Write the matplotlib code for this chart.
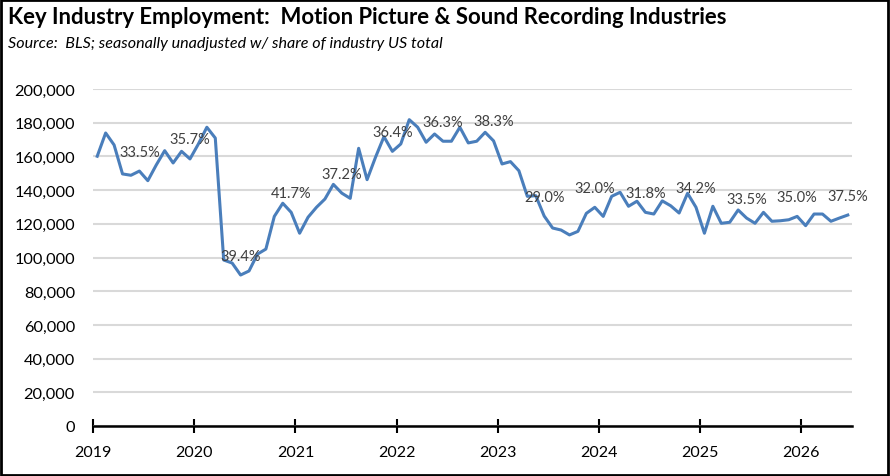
import numpy as np
import matplotlib.pyplot as plt
from matplotlib.patches import Rectangle

# monthly employment, Jan 2019 .. Jun 2026 (thousands)
employment = [
    160.1, 173.9, 166.8, 149.6, 148.8, 151.3, 145.6, 154.9, 163.4, 156.1, 163.0, 158.5,
    167.4, 177.3, 170.9, 98.5, 96.7, 89.6, 92.0, 102.0, 105.0, 124.4, 132.2, 126.8,
    114.4, 123.9, 129.8, 134.7, 143.4, 138.2, 135.1, 164.8, 146.2, 159.5, 171.7, 163.0,
    167.4, 181.8, 177.3, 168.4, 173.3, 169.0, 169.0, 177.3, 168.0, 169.0, 174.3, 169.2,
    155.5, 156.9, 151.5, 136.3, 136.7, 124.6, 117.5, 116.3, 113.4, 115.5, 126.2, 129.8,
    124.4, 136.3, 138.7, 130.4, 133.4, 126.8, 125.8, 133.6, 130.7, 126.4, 138.1, 129.8,
    114.4, 130.4, 120.3, 120.9, 128.2, 123.4, 120.3, 126.8, 121.5, 121.8, 122.4, 124.4,
    118.9, 125.8, 125.8, 121.5, 123.4, 125.2,
]
employment = np.array(employment) * 1000

# share of US industry total, labelled every June / December
share_idx = [5, 11, 17, 23, 29, 35, 41, 47, 53, 59, 65, 71, 77, 83, 89]
share_txt = ['33.5%', '35.7%', '39.4%', '41.7%', '37.2%', '36.4%', '36.3%', '38.3%',
             '29.0%', '32.0%', '31.8%', '34.2%', '33.5%', '35.0%', '37.5%']

years = list(range(2019, 2027))

plt.rcParams['font.family'] = ['Lato', 'DejaVu Sans']

fig = plt.figure(figsize=(8.9, 4.77), dpi=100)
ax = fig.add_axes([93/890, 50/477, 759/890, 337/477])

x = np.arange(len(employment)) + 0.5
ax.plot(x, employment, color='#4a7ebb', lw=2.2, solid_joinstyle='round')

for i, t in zip(share_idx, share_txt):
    ax.annotate(t, (x[i], employment[i]), xytext=(0, 9), textcoords='offset points',
                ha='center', va='bottom', fontsize=10.5, color='#404040')

ax.set_xlim(0, 90)
ax.set_ylim(0, 200000)
ax.set_xticks([12 * i for i in range(len(years))])
ax.set_xticklabels([str(y) for y in years], fontsize=11.5)
ax.set_yticks(range(0, 200001, 20000))
ax.set_yticklabels([f'{v:,}' for v in range(0, 200001, 20000)], fontsize=11.8)
ax.tick_params(axis='y', length=0, pad=13)
ax.tick_params(axis='x', direction='inout', length=10, width=1.5, pad=9, color='black')

ax.grid(axis='y', color='#d9d9d9', lw=1.5)
ax.set_axisbelow(True)
for s in ['left', 'right', 'top']:
    ax.spines[s].set_visible(False)
ax.spines['bottom'].set_linewidth(1.8)
ax.spines['bottom'].set_zorder(3)

fig.text(8/890, 1 - 18/477, 'Key Industry Employment:  Motion Picture & Sound Recording Industries',
         fontsize=15.9, fontweight='bold', va='center', ha='left')
fig.text(8/890, 1 - 44/477, 'Source:  BLS; seasonally unadjusted w/ share of industry US total',
         fontsize=11.6, fontstyle='italic', va='center', ha='left')

fig.patches.append(Rectangle((0.001, 0.002), 0.997, 0.996, transform=fig.transFigure,
                             fill=False, edgecolor='black', lw=2))

fig.savefig('out.png', dpi=100)
